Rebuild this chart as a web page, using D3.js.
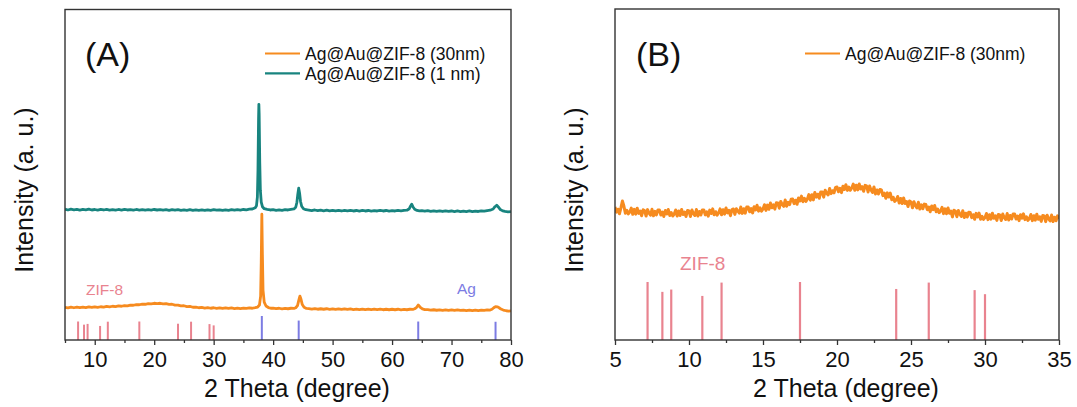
<!DOCTYPE html>
<html><head><meta charset="utf-8">
<script src="https://cdn.jsdelivr.net/npm/d3@7"></script>
<style>
body{margin:0;background:#fff}
text{font-family:"Liberation Sans",Arial,Helvetica,sans-serif;fill:#111}
</style>
</head><body>
<svg id="c" width="1077" height="407"></svg>
<script>
// ---------------- DATA ----------------
// Panel A: Ag@Au@ZIF-8 (1 nm), [2θ, intensity a.u.]
const teal1nm = [[5,131],[5.5,130.2],[6,131],[6.5,130.4],[7,130.9],[7.5,130.1],[8,130.8],[8.5,130.3],[9,131],[9.5,130.2],[10,130.7],[10.5,130],[11,130.8],[11.5,130.2],[12,130.9],[12.5,130.1],[13,130.6],[13.5,130],[14,130.7],[14.5,130.1],[15,130.8],[15.5,130.2],[16,130.6],[16.5,130],[17,130.7],[17.5,130.1],[18,130.6],[18.5,130],[19,130.5],[19.5,130.1],[20,130.7],[20.5,130.2],[21,130.6],[21.5,130],[22,130.5],[22.5,129.9],[23,130.6],[23.5,130],[24,130.5],[24.5,129.9],[25,130.4],[25.5,129.9],[26,130.5],[26.5,129.8],[27,130.4],[27.5,129.9],[28,130.3],[28.5,129.8],[29,130.4],[29.5,129.9],[30,130.5],[30.5,130],[31,130.4],[31.5,129.8],[32,130.3],[32.5,129.9],[33,130.5],[33.5,130],[34,130.6],[34.5,130.1],[35,130.7],[35.5,130.4],[36,131],[36.5,131.2],[37,132.5],[37.2,134.5],[37.35,143],[37.45,170],[37.55,222],[37.6,236],[37.65,226],[37.75,178],[37.85,150],[38,138],[38.2,133.5],[38.5,131.5],[39,130.8],[39.5,130.2],[40,130.5],[40.5,129.9],[41,130.4],[41.5,129.9],[42,130.5],[42.5,130.2],[43,130.8],[43.5,131.3],[43.8,133],[44,138],[44.15,146],[44.3,152],[44.45,147],[44.6,139],[44.8,134],[45.1,131.5],[45.5,130.5],[46,130.1],[46.5,129.6],[47,130.2],[47.5,129.5],[48,130],[48.5,129.4],[49,130],[49.5,129.3],[50,129.9],[50.5,129.3],[51,129.8],[51.5,129.2],[52,129.9],[52.5,129.3],[53,129.8],[53.5,129.2],[54,129.7],[54.5,129.1],[55,129.8],[55.5,129.2],[56,129.7],[56.5,129.1],[57,129.6],[57.5,129.2],[58,129.8],[58.5,129.2],[59,129.7],[59.5,129.1],[60,129.6],[60.5,129.2],[61,129.8],[61.5,129.3],[62,129.9],[62.5,130],[62.9,131.5],[63.1,134],[63.3,136],[63.5,133.5],[63.8,131],[64.2,129.8],[64.6,129.3],[65,129.6],[65.5,129],[66,129.5],[66.5,128.9],[67,129.4],[67.5,128.8],[68,129.3],[68.5,128.7],[69,129.3],[69.5,128.8],[70,129.2],[70.5,128.6],[71,129.2],[71.5,128.6],[72,129.1],[72.5,128.6],[73,129.2],[73.5,128.6],[74,129.1],[74.5,128.7],[75,129.3],[75.5,129],[76,129.6],[76.5,130],[77,131.2],[77.3,133.5],[77.6,135],[77.9,133],[78.2,130.6],[78.6,129.3],[79,128.8],[79.5,128.4],[80,128.6]];

// Panel A: Ag@Au@ZIF-8 (30nm)
const orange30nm = [[5,32.8],[5.5,32.2],[6,32.9],[6.5,32.3],[7,33],[7.5,32.4],[8,33],[8.5,32.5],[9,33.1],[9.5,32.6],[10,33.2],[10.5,32.7],[11,33.3],[11.5,32.9],[12,33.6],[12.5,33.1],[13,33.8],[13.5,33.4],[14,34.1],[14.5,33.8],[15,34.5],[15.5,34.2],[16,35],[16.5,34.8],[17,35.5],[17.5,35.3],[18,36],[18.5,35.8],[19,36.4],[19.5,36.2],[20,36.8],[20.5,36.5],[21,36.8],[21.5,36.2],[22,36.4],[22.5,35.7],[23,35.8],[23.5,35],[24,35],[24.5,34.2],[25,34.3],[25.5,33.5],[26,33.6],[26.5,32.8],[27,33],[27.5,32.3],[28,32.6],[28.5,32],[29,32.4],[29.5,31.8],[30,32.3],[30.5,31.7],[31,32.2],[31.5,31.6],[32,32.1],[32.5,31.6],[33,32.1],[33.5,31.5],[34,32],[34.5,31.5],[35,32],[35.5,31.6],[36,32.1],[36.5,31.8],[37,32.4],[37.4,33],[37.7,35],[37.9,44],[38,78],[38.1,126],[38.2,84],[38.3,50],[38.5,38],[38.8,34],[39.2,32.5],[39.6,31.8],[40,32],[40.5,31.4],[41,31.8],[41.5,31.2],[42,31.7],[42.5,31.3],[43,31.8],[43.5,31.6],[43.8,32.3],[44.1,34.5],[44.3,39.5],[44.5,44],[44.7,40.5],[44.9,35.5],[45.2,32.8],[45.6,31.6],[46,31.5],[46.5,30.9],[47,31.4],[47.5,30.8],[48,31.3],[48.5,30.8],[49,31.3],[49.5,30.7],[50,31.2],[50.5,30.6],[51,31.1],[51.5,30.6],[52,31.2],[52.5,30.6],[53,31.1],[53.5,30.5],[54,31],[54.5,30.5],[55,31],[55.5,30.4],[56,30.9],[56.5,30.4],[57,30.9],[57.5,30.4],[58,30.9],[58.5,30.3],[59,30.8],[59.5,30.3],[60,30.8],[60.5,30.3],[61,30.8],[61.5,30.2],[62,30.7],[62.5,30.3],[63,30.8],[63.5,30.7],[63.8,31.3],[64.1,32.5],[64.4,35],[64.7,33],[65.1,31.2],[65.5,30.5],[66,30.4],[66.5,29.9],[67,30.3],[67.5,29.8],[68,30.2],[68.5,29.7],[69,30.2],[69.5,29.7],[70,30.1],[70.5,29.6],[71,30.1],[71.5,29.6],[72,30],[72.5,29.5],[73,30],[73.5,29.5],[74,30],[74.5,29.5],[75,30],[75.5,29.6],[76,30.1],[76.5,30],[76.8,30.8],[77.1,32.3],[77.4,33.5],[77.7,33.2],[78,32.3],[78.3,31],[78.7,30],[79.2,29.3],[79.6,29],[80,29.2]];

// Panel B: Ag@Au@ZIF-8 (30nm), 2θ from 5 to 35 in steps of 0.1
const bStart = 5, bStep = 0.1;
const orangeB = [
 133,127.9,130.8,126.2,132.1,139,134,126.8,129.7,126.1,
 128,131.9,125.7,130.6,125.9,131.8,126.6,129,124.3,130.2,
 129.5,123.95,130.4,126.85,124.8,130.75,124.2,128.65,125.1,130.05,
 130,125,128,123.5,129.5,126,130.5,124.5,127.5,124,
 126,130,124,129,124.5,130.5,125.5,128,123.5,129.5,
 129,123.5,130,126.5,124.5,130.5,124,128.5,125,130,
 130,125.1,128.2,123.8,129.9,126.5,131.1,125.2,128.3,124.9,
 127,131.1,125.2,130.3,125.9,132,127.1,129.7,124.3,130.4,
 131,125.6,131.2,128.8,126.9,133,126.6,131.2,126.8,132.9,
 133,128.2,131.4,127.1,133.3,130,134.7,128.9,132.1,128.8,
 131,135.3,129.6,134.9,130.7,137,132.3,135.1,130.9,137.2,
 137,131.8,138.6,135.4,133.7,140,133.8,137.6,135.4,140.7,
 141,136.4,139.8,135.7,142.1,139,143.9,138.3,141.7,138.6,
 141,145.4,139.8,145.2,140.1,147.5,142.9,145.8,141.7,148.1,
 148,142.9,149.8,146.7,145.1,151.5,146.4,149.3,147.2,152.6,
 153,148.3,151.6,147.4,153.7,150.5,155.3,149.6,152.9,149.7,
 152,155.9,149.8,154.7,150.1,156,151,153.3,148.7,154.6,
 154,148,154,150,147.5,153,146,150,146,150.5,
 150,144.4,146.8,141.7,147.1,143,146.9,140.3,142.7,138.6,
 140,143.5,137,141.5,136.5,142,136.5,138.5,133.5,139,
 138,132.2,138.3,134.5,132.1,137.8,130.9,135.1,131.2,135.9,
 135.5,130.3,133,128.3,134,130.3,134.5,128.3,131,127.3,
 129,132.7,126.4,131.1,126.3,132,126.7,128.9,123.1,129.8,
 129,123.3,129.5,125.8,123.5,129.3,122.5,126.8,123,127.8,
 127.5,122.4,125.3,120.7,126.6,123,126.9,120.8,123.7,120.6,
 122.5,126.5,120.4,125.3,120.8,126.8,121.7,124.2,119.6,125.5,
 125,119.5,126,122.5,120.5,126.5,120,124.5,121,126,
 126,121,124,119.4,125.3,121.8,126.2,120.4,123.1,119.6,
 121.5,125.5,119.4,124.3,119.8,125.8,120.7,123.2,118.6,124.5,
 124,118.4,124.8,121.2,119.1,125,118.4,122.8,119.2,124.1,
 121];

// Reference patterns (position, relative intensity)
const zif8Pos = [7.2, 8.2, 8.8, 10.9, 12.2, 17.5, 24.0, 26.2, 29.3, 30.0];
const zif8Int = [100, 83, 87, 76, 99, 100, 88, 99, 86, 79];
const agPos = [38.1, 44.3, 64.4, 77.4];
const agInt = [100, 81, 77, 76];

// Ticks
const ticksA = [10, 20, 30, 40, 50, 60, 70, 80];
const minorA = [5, 15, 25, 35, 45, 55, 65, 75];
const ticksB = [5, 10, 15, 20, 25, 30, 35];
const minorB = [7.5, 12.5, 17.5, 22.5, 27.5, 32.5];

// Legend
const legendA = ["Ag@Au@ZIF-8 (30nm)", "Ag@Au@ZIF-8 (1 nm)"];
const legendB = ["Ag@Au@ZIF-8 (30nm)"];

// ---------------- STYLE ----------------
const C_ORANGE = "#f68b1f", C_TEAL = "#18847f", C_PINK = "#e9838f", C_AG = "#7c7ce3";
const svg = d3.select("#c");

function drawPanel(p) {
  const x = d3.scaleLinear().domain(p.xDomain).range([p.left, p.right]);
  const y = d3.scaleLinear().domain([0, 331]).range([p.bottom, p.top]);
  const g = svg.append("g");
  const clipId = "clip" + p.id;
  svg.append("clipPath").attr("id", clipId).append("rect")
    .attr("x", p.left).attr("y", p.top).attr("width", p.right - p.left).attr("height", p.bottom - p.top);
  const plot = g.append("g").attr("clip-path", `url(#${clipId})`);

  // reference sticks
  p.refs.forEach(r => {
    const h = d3.scaleLinear().domain([0, 100]).range([0, r.maxH]);
    plot.selectAll(null).data(r.pos.map((v, i) => [v, r.int[i]])).enter().append("line")
      .attr("x1", d => x(d[0])).attr("x2", d => x(d[0]))
      .attr("y1", p.bottom).attr("y2", d => p.bottom - h(d[1]))
      .attr("stroke", r.color).attr("stroke-width", r.w);
  });

  // curves
  const line = d3.line().x(d => x(d[0])).y(d => y(d[1]));
  p.series.forEach(s => {
    plot.append("path").datum(s.data).attr("d", line)
      .attr("fill", "none").attr("stroke", s.color).attr("stroke-width", s.w)
      .attr("stroke-linejoin", "round");
  });

  // axes
  const ax = g.append("g").attr("transform", `translate(0,${p.bottom})`)
    .call(d3.axisBottom(x).tickValues(p.ticks).tickFormat(d3.format("d")).tickSize(5).tickPadding(6));
  ax.select(".domain").remove();
  ax.selectAll(".tick line").attr("stroke", "#333").attr("stroke-width", 1.3);
  ax.selectAll(".tick text").attr("font-size", 22).attr("fill", "#111")
    .style("font-family", '"Liberation Sans",Arial,sans-serif');
  const mx = g.append("g").attr("transform", `translate(0,${p.bottom})`)
    .call(d3.axisBottom(x).tickValues(p.minor).tickFormat("").tickSize(3));
  mx.select(".domain").remove();
  mx.selectAll(".tick line").attr("stroke", "#333").attr("stroke-width", 1.3);

  // frame
  g.append("rect").attr("x", p.left).attr("y", p.top)
    .attr("width", p.right - p.left).attr("height", p.bottom - p.top)
    .attr("fill", "none").attr("stroke", "#333").attr("stroke-width", 1.4);

  // titles
  g.append("text").attr("x", (p.left + p.right) / 2 + 9).attr("y", 397)
    .attr("text-anchor", "middle").attr("font-size", 25).text("2 Theta (degree)");
  g.append("text").attr("transform", `translate(${p.left - 32},190) rotate(-90)`)
    .attr("text-anchor", "middle").attr("font-size", 25).text("Intensity (a. u.)");
  g.append("text").attr("x", p.tagX).attr("y", 66).attr("font-size", 34).text(p.tag);

  // legend
  p.legend.forEach((name, i) => {
    const base = 60 + i * 19.8;
    g.append("line").attr("x1", p.legX).attr("x2", p.legX + 35).attr("y1", base - 6.5).attr("y2", base - 6.5)
      .attr("stroke", p.series[i].color).attr("stroke-width", 2.2);
    g.append("text").attr("x", p.legX + 40).attr("y", base).attr("font-size", 17.5).text(name);
  });

  // labels
  p.labels.forEach(l => {
    g.append("text").attr("x", l.x).attr("y", l.y).attr("font-size", l.size)
      .style("fill", l.color).text(l.text);
  });
}

drawPanel({
  id: "A", left: 65, right: 511, top: 9.5, bottom: 340, xDomain: [5, 80],
  ticks: ticksA, minor: minorA, tag: "(A)", tagX: 85, legX: 265,
  legend: legendA,
  series: [{data: orange30nm, color: C_ORANGE, w: 2.8}, {data: teal1nm, color: C_TEAL, w: 2.8}],
  refs: [{pos: zif8Pos, int: zif8Int, maxH: 18.5, color: C_PINK, w: 2},
         {pos: agPos, int: agInt, maxH: 24, color: C_AG, w: 2}],
  labels: [{text: "ZIF-8", x: 86, y: 295, size: 15.5, color: C_PINK},
           {text: "Ag", x: 457, y: 293.5, size: 15.5, color: C_AG}]
});

drawPanel({
  id: "B", left: 615, right: 1059, top: 9, bottom: 340, xDomain: [5, 35],
  ticks: ticksB, minor: minorB, tag: "(B)", tagX: 636, legX: 805,
  legend: legendB,
  series: [{data: orangeB.map((v, i) => [bStart + i * bStep, v]), color: C_ORANGE, w: 3}],
  refs: [{pos: zif8Pos, int: zif8Int, maxH: 58, color: C_PINK, w: 2.2}],
  labels: [{text: "ZIF-8", x: 680, y: 270, size: 19, color: C_PINK}]
});
</script>
</body></html>
